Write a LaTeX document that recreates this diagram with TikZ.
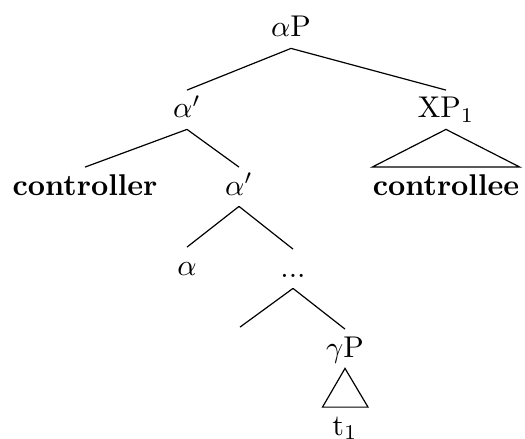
\documentclass[tikz,border=0pt]{standalone}
\usetikzlibrary{calc}
\begin{document}
\begin{tikzpicture}[x=0.33333pt,y=-0.33333pt,
  lab/.style={anchor=base,inner xsep=0pt,inner ysep=3.6pt,text height=5.5pt,text depth=0pt,font=\fontsize{10}{12}\selectfont},
  edge/.style={line width=0.4pt}]
\useasboundingbox (0,0) rectangle (525,438);
\node[lab] (aP) at (291,37) {$\alpha$P};
\node[lab] (a1) at (187,118) {$\alpha'$};
\node[lab] (XP) at (446,118) {XP$_1$};
\node[lab] (ctrl) at (85,195) {\textbf{controller}};
\node[lab] (a2) at (239,195) {$\alpha'$};
\node[lab] (cee) at (446,195) {\textbf{controllee}};
\node[lab] (al) at (187,275) {$\alpha$};
\node[lab] (dots) at (293,277) {...};
\node[lab] (emp) at (240,355) {};
\node[lab] (gP) at (345,357) {$\gamma$P};
\node[lab] (t1) at (345,435) {t$_1$};
\coordinate (tl) at ($(t1.north)+(-22.5,0)$);
\coordinate (tr) at ($(t1.north)+(23,0)$);
\draw[edge] (aP.south) -- (a1.north);
\draw[edge] (aP.south) -- (XP.north);
\draw[edge] (a1.south) -- (ctrl.north);
\draw[edge] (a1.south) -- (a2.north);
\draw[edge] (XP.south) -- (cee.north west) -- (cee.north east) -- cycle;
\draw[edge] (a2.south) -- (al.north);
\draw[edge] (a2.south) -- (dots.north);
\draw[edge] (dots.south) -- (emp.north);
\draw[edge] (dots.south) -- (gP.north);
\draw[edge] (gP.south) -- (tl) -- (tr) -- cycle;
\end{tikzpicture}
\end{document}
